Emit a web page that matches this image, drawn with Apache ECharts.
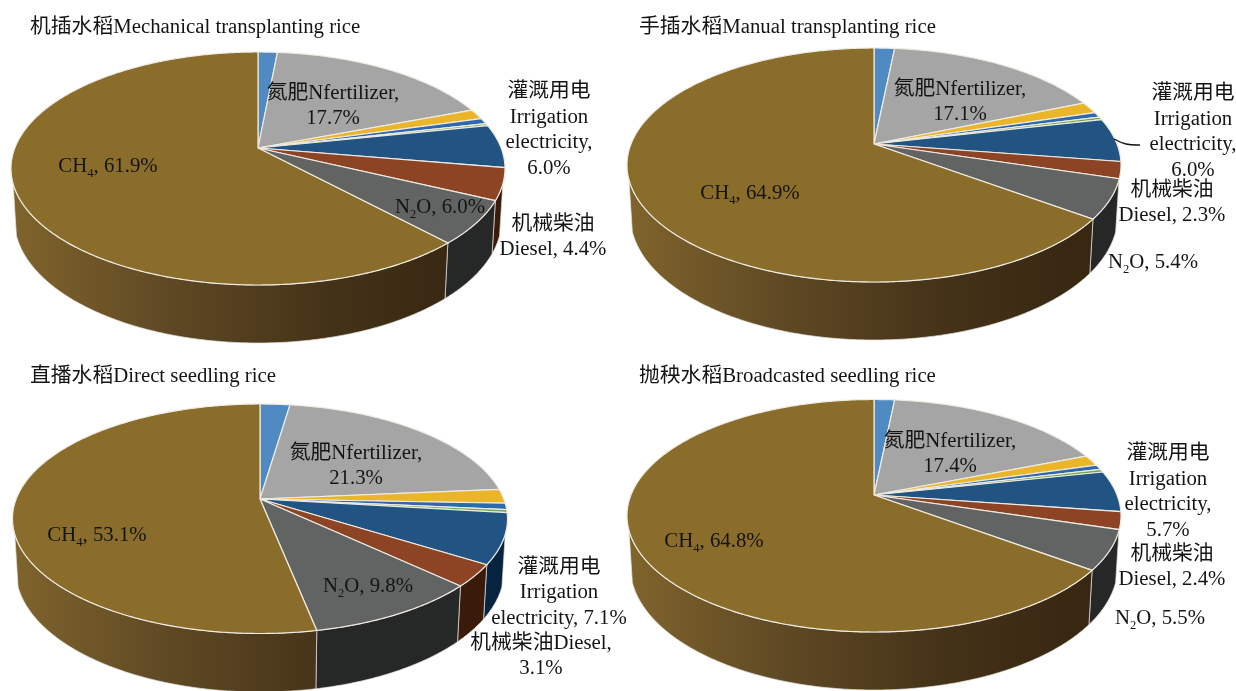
<!DOCTYPE html>
<html><head><meta charset="utf-8">
<style>html,body{margin:0;padding:0;background:#fff}#c{width:1236px;height:691px}</style>
<script src="https://cdn.jsdelivr.net/npm/echarts@6/dist/echarts.min.js"></script>
</head><body><div id="c"></div>
<script>
// Slices, clockwise from 12 o'clock
const categories = ['Other', '氮肥Nfertilizer', 'Yellow', 'Blue', 'Green', '灌溉用电Irrigation electricity', '机械柴油Diesel', 'N2O', 'CH4'];
const mechanicalValues = [1.5, 17.7, 1.4, 0.8, 0.3, 6.0, 4.4, 6.0, 61.9];
const manualValues     = [1.6, 17.1, 1.6, 0.7, 0.4, 6.0, 2.3, 5.4, 64.9];
const directValues     = [2.3, 21.3, 2.0, 0.9, 0.4, 7.1, 3.1, 9.8, 53.1];
const broadcastValues  = [1.6, 17.4, 1.5, 0.7, 0.4, 5.7, 2.4, 5.5, 64.8];
const panelTitles = ['机插水稻Mechanical transplanting rice', '手插水稻Manual transplanting rice', '直播水稻Direct seedling rice', '抛秧水稻Broadcasted seedling rice'];

const topColors  = ['#4f8bc2', '#a5a5a5', '#ebb52a', '#2e68b0', '#6fa84a', '#215482', '#8c4424', '#626464', '#8b6d2b'];
const sideColors = ['#2a4a68', '#555555', '#7a5d12', '#183a60', '#3a5a25', '#06233f', '#3a1b0a', '#262828', null];
const FONT = '"Liberation Serif","Noto Sans CJK SC",serif';

// Per-panel geometry: centre, half width, distance from centre to back/front rim, to lower front rim
const panels = [
  {values: mechanicalValues, cx: 258,   cy: 148, rx: 247, up: 96,   down: 137,   low: 195,
   title: [30, 17],
   labels: [[1, ['氮肥Nfertilizer,', '{v}'], 333, 106], [5, ['灌溉用电', 'Irrigation', 'electricity,', '{v}'], 549, 130],
            [6, ['机械柴油', 'Diesel, {v}'], 553, 237], [7, ['N2O, {v}'], 440, 208], [8, ['CH4, {v}'], 108, 167]]},
  {values: manualValues, cx: 874,   cy: 144, rx: 247, up: 96,   down: 138,   low: 196,
   title: [639, 17],
   labels: [[1, ['氮肥Nfertilizer,', '{v}'], 960, 102], [5, ['灌溉用电', 'Irrigation', 'electricity,', '{v}'], 1193, 132],
            [6, ['机械柴油', 'Diesel, {v}'], 1172, 203], [7, ['N2O, {v}'], 1153, 263], [8, ['CH4, {v}'], 750, 194]]},
  {values: directValues, cx: 260,   cy: 499, rx: 247.5, up: 95, down: 134.5, low: 193,
   title: [30, 366],
   labels: [[1, ['氮肥Nfertilizer,', '{v}'], 356, 466], [5, ['灌溉用电', 'Irrigation', 'electricity, {v}'], 559, 593],
            [6, ['机械柴油Diesel,', '{v}'], 541, 656], [7, ['N2O, {v}'], 368, 587], [8, ['CH4, {v}'], 97, 536]]},
  {values: broadcastValues, cx: 874,   cy: 495, rx: 247, up: 95.5, down: 137,   low: 195,
   title: [639, 366],
   labels: [[1, ['氮肥Nfertilizer,', '{v}'], 950, 454], [5, ['灌溉用电', 'Irrigation', 'electricity,', '{v}'], 1168, 492],
            [6, ['机械柴油', 'Diesel, {v}'], 1172, 567], [7, ['N2O, {v}'], 1160, 619], [8, ['CH4, {v}'], 714, 542]]}
];

const SHRINK = 0.013, SIDE_START = 0.3;

function projector(p) {
  const k = (p.down - p.up) / (p.down + p.up);
  const H = p.down * (1 - k);
  const W = p.rx * Math.sqrt(1 - k * k);
  const D = p.low * (1 - k + SHRINK) - H;
  return function (theta, z) {
    const u = Math.sin(theta), v = -Math.cos(theta), w = 1 - k * v + SHRINK * z;
    return [p.cx + W * u / w, p.cy + (H * v + D * z) / w];
  };
}
function arc(proj, a, b, z) {
  const n = Math.max(2, Math.ceil((b - a) / 0.01)), pts = [];
  for (let i = 0; i <= n; i++) pts.push(proj(a + (b - a) * i / n, z));
  return pts;
}
function richLine(s) {
  const m = s.match(/^(CH|N)(\d)(.*)$/);
  if (m) return '{t|' + m[1] + '}{s|' + m[2] + '}{t|' + m[3] + '}';
  return '{t|' + s + '}';
}
function renderer(p) {
  const proj = projector(p);
  return function (params, api) {
    const i = params.dataIndex;
    let cum = 0;
    for (let j = 0; j < i; j++) cum += p.values[j];
    const val = api.value(0);
    const t0 = cum / 100 * 2 * Math.PI, t1 = (cum + val) / 100 * 2 * Math.PI;
    const kids = [];
    const lo = Math.acos(-SIDE_START), hi = 2 * Math.PI - lo;
    const a = Math.max(t0, lo), b = Math.min(t1, hi);
    if (b > a) {
      const fill = sideColors[i] || {type: 'linear', global: true, x: p.cx - p.rx, y: 0, x2: p.cx + 0.8 * p.rx, y2: 0,
        colorStops: [{offset: 0, color: '#80642c'}, {offset: 0.35, color: '#5f4924'}, {offset: 0.72, color: '#443218'}, {offset: 1, color: '#382812'}]};
      kids.push({type: 'polygon', z2: 1, silent: true,
        shape: {points: arc(proj, a, b, 0).concat(arc(proj, a, b, 1).reverse())},
        style: {fill: fill, stroke: '#e4e2da', lineWidth: 0.7}});
    }
    kids.push({type: 'polygon', z2: 2, silent: true,
      shape: {points: [[p.cx, p.cy]].concat(arc(proj, t0, t1, 0))},
      style: {fill: topColors[i], stroke: '#eeebe2', lineWidth: 1.2}});
    p.labels.filter(l => l[0] === i).forEach(l => {
      const txt = l[1].map(s => richLine(s.replace('{v}', val.toFixed(1) + '%'))).join('\n');
      kids.push({type: 'text', z2: 3, silent: true, x: l[2], y: l[3],
        style: {text: txt, align: 'center', verticalAlign: 'middle', fill: '#141414',
          rich: {t: {fontFamily: FONT, fontSize: 20.8, lineHeight: 25.5, fill: '#141414'},
                 s: {fontFamily: FONT, fontSize: 12.5, lineHeight: 17, verticalAlign: 'bottom', fill: '#141414'}}}});
    });
    return {type: 'group', children: kids};
  };
}

const chart = echarts.init(document.getElementById('c'), null, {renderer: 'canvas'});
chart.setOption({
  animation: false,
  backgroundColor: '#fff',
  title: panels.map((p, i) => ({text: panelTitles[i], left: p.title[0], top: p.title[1], padding: 0,
    textStyle: {fontFamily: FONT, fontSize: 20.8, fontWeight: 'normal', color: '#141414'}})),
  series: panels.map((p, i) => ({
    type: 'custom', name: panelTitles[i], coordinateSystem: 'none', animation: false, silent: true,
    data: p.values.map((v, j) => ({name: categories[j], value: [v]})),
    renderItem: renderer(p)
  })),
  graphic: [{type: 'polyline', z: 10, silent: true,
    shape: {points: [[1114, 139], [1126, 144], [1140, 145]], smooth: 0.4},
    style: {stroke: '#111', lineWidth: 1.4, fill: null}}]
});
</script></body></html>
